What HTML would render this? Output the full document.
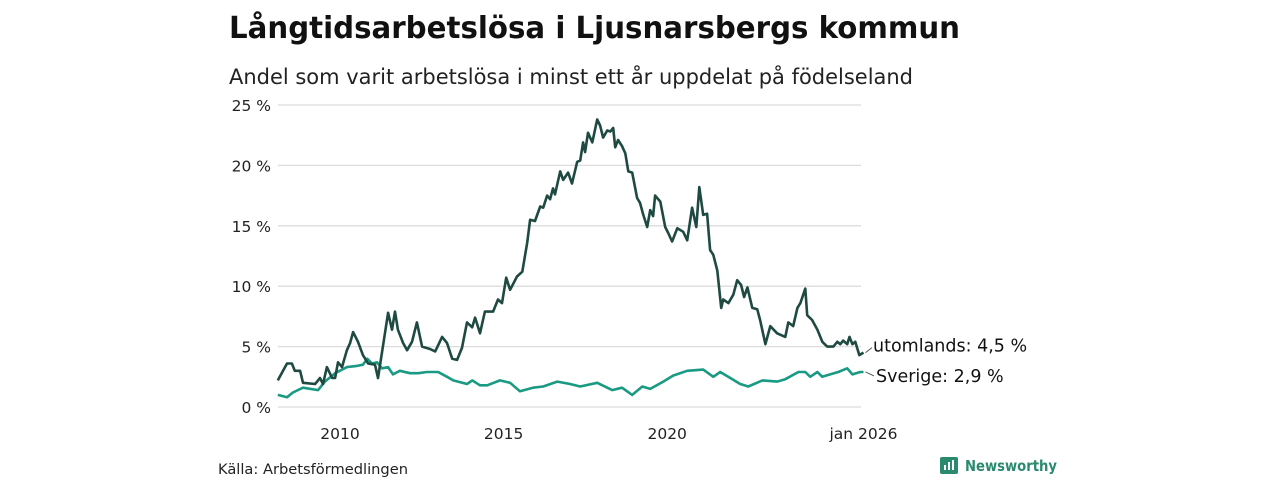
<!DOCTYPE html>
<html><head><meta charset="utf-8">
<style>
body{margin:0;background:#fff;font-family:"DejaVu Sans","Liberation Sans",sans-serif;}
#wrap{position:relative;width:1280px;height:480px;overflow:hidden;}
</style></head>
<body>
<div id="wrap">
<svg id="chart" width="1280" height="480" font-family="DejaVu Sans, Liberation Sans, sans-serif">
  <text x="229" y="38" font-size="30" font-weight="bold" fill="#111" textLength="731" lengthAdjust="spacingAndGlyphs">Långtidsarbetslösa i Ljusnarsbergs kommun</text>
  <text x="229" y="84" font-size="21" fill="#222" textLength="684" lengthAdjust="spacingAndGlyphs">Andel som varit arbetslösa i minst ett år uppdelat på födelseland</text>
  <g id="grid"></g><g id="series"></g>
  <text x="218" y="474" font-size="14.5" fill="#222" textLength="190" lengthAdjust="spacingAndGlyphs">Källa: Arbetsförmedlingen</text>
  <g>
    <rect x="940" y="457" width="18" height="17" rx="2" fill="#2a8a6e"/>
    <rect x="944" y="465" width="2" height="5" fill="#fff"/><rect x="948" y="462" width="2" height="8" fill="#fff"/><rect x="952" y="460" width="2" height="10" fill="#fff"/>
    <text x="965" y="471" font-size="15" font-weight="bold" fill="#2a8a6e" textLength="92" lengthAdjust="spacingAndGlyphs">Newsworthy</text>
  </g>
</svg>
</div>
<script>
const yTicks=[0,5,10,15,20,25];
const yTickLabels=["0 %","5 %","10 %","15 %","20 %","25 %"];
const xTicks=[2010,2015,2020,2026];
const xTickLabels=["2010","2015","2020","jan 2026"];
const foreignDates=[2008.10,2008.38,2008.53,2008.62,2008.78,2008.87,2009.24,2009.39,2009.48,2009.60,2009.76,2009.85,2009.94,2010.06,2010.21,2010.31,2010.40,2010.55,2010.70,2010.86,2011.07,2011.16,2011.31,2011.47,2011.59,2011.68,2011.77,2011.93,2012.05,2012.20,2012.35,2012.51,2012.75,2012.91,2013.12,2013.27,2013.43,2013.58,2013.73,2013.88,2014.04,2014.13,2014.28,2014.43,2014.68,2014.83,2014.95,2015.08,2015.20,2015.41,2015.57,2015.72,2015.81,2015.96,2016.12,2016.21,2016.33,2016.42,2016.51,2016.57,2016.73,2016.82,2016.97,2017.09,2017.25,2017.34,2017.43,2017.49,2017.58,2017.71,2017.86,2017.95,2018.04,2018.17,2018.26,2018.35,2018.41,2018.50,2018.62,2018.72,2018.81,2018.93,2019.08,2019.17,2019.27,2019.39,2019.48,2019.57,2019.63,2019.79,2019.94,2020.03,2020.15,2020.31,2020.49,2020.61,2020.76,2020.89,2020.98,2021.10,2021.22,2021.31,2021.41,2021.53,2021.65,2021.71,2021.87,2022.02,2022.14,2022.26,2022.35,2022.45,2022.60,2022.75,2022.84,2023.00,2023.15,2023.36,2023.61,2023.70,2023.85,2023.98,2024.07,2024.22,2024.28,2024.43,2024.59,2024.74,2024.89,2025.08,2025.20,2025.29,2025.38,2025.50,2025.57,2025.66,2025.75,2025.87,2026.0];
const foreignValues=[2.2,3.6,3.6,3.0,3.0,2.0,1.9,2.4,1.9,3.3,2.4,2.4,3.7,3.3,4.7,5.3,6.2,5.4,4.3,3.6,3.5,2.4,5.0,7.8,6.4,7.9,6.4,5.3,4.7,5.4,7.0,5.0,4.8,4.6,5.8,5.3,4.0,3.9,4.9,7.0,6.6,7.4,6.1,7.9,7.9,8.9,8.6,10.7,9.7,10.8,11.2,13.6,15.5,15.4,16.6,16.5,17.5,17.2,18.1,17.6,19.5,18.8,19.4,18.5,20.3,20.4,21.9,21.1,22.7,21.9,23.8,23.3,22.3,22.9,22.8,23.1,21.5,22.1,21.6,21.0,19.5,19.4,17.3,16.9,15.9,14.9,16.3,15.8,17.5,17.0,14.9,14.4,13.7,14.8,14.5,13.8,16.5,14.9,18.2,15.9,16.0,13.0,12.6,11.3,8.2,8.9,8.6,9.3,10.5,10.1,9.1,9.9,8.2,8.1,7.2,5.2,6.7,6.1,5.8,7.0,6.7,8.2,8.6,9.8,7.6,7.2,6.4,5.4,5.0,5.0,5.4,5.2,5.5,5.2,5.8,5.2,5.4,4.3,4.5];
const swedenDates=[2008.10,2008.38,2008.56,2008.87,2009.33,2009.54,2009.85,2010.21,2010.52,2010.70,2010.83,2010.98,2011.13,2011.28,2011.47,2011.62,2011.83,2012.14,2012.39,2012.66,2013.00,2013.27,2013.46,2013.88,2014.04,2014.28,2014.50,2014.89,2015.20,2015.50,2015.90,2016.21,2016.64,2017.03,2017.34,2017.86,2018.32,2018.62,2018.93,2019.24,2019.48,2019.88,2020.18,2020.61,2021.10,2021.41,2021.62,2021.93,2022.23,2022.48,2022.91,2023.36,2023.61,2024.01,2024.22,2024.37,2024.59,2024.74,2024.98,2025.23,2025.50,2025.66,2025.90,2026.0];
const swedenValues=[1.0,0.8,1.2,1.6,1.4,2.1,2.8,3.3,3.4,3.5,4.0,3.6,3.7,3.2,3.3,2.7,3.0,2.8,2.8,2.9,2.9,2.5,2.2,1.9,2.2,1.8,1.8,2.2,2.0,1.3,1.6,1.7,2.1,1.9,1.7,2.0,1.4,1.6,1.0,1.7,1.5,2.1,2.6,3.0,3.1,2.5,2.9,2.4,1.9,1.7,2.2,2.1,2.3,2.9,2.9,2.5,2.9,2.5,2.7,2.9,3.2,2.7,2.9,2.9];
const NS="http://www.w3.org/2000/svg";
const x=t=>340+(t-2010)*32.72;
const y=v=>407-v*12.08;
const grid=document.getElementById('grid'),ser=document.getElementById('series');
function mk(tag,attrs,parent){const e=document.createElementNS(NS,tag);for(const k in attrs)e.setAttribute(k,attrs[k]);parent.appendChild(e);return e;}
yTicks.forEach((v,i)=>{
  const l=mk('line',{x1:278,x2:861,y1:y(v),y2:y(v),stroke:'#dcdcdc','stroke-width':1.3},grid);
  
  
  const t=mk('text',{x:271,y:y(v)+6,'text-anchor':'end','font-size':15.5,fill:'#222'},grid);
  t.textContent=yTickLabels[i];
  
  
});
xTicks.forEach((v,i)=>{
  const t=mk('text',{x:x(v),y:439,'text-anchor':'middle','font-size':15.5,fill:'#222'},grid);
  t.textContent=xTickLabels[i];
  
  
});
function line(d,v,c,name){
  const p=mk('path',{d:d.map((t,i)=>(i?'L':'M')+x(t).toFixed(1)+','+y(v[i]).toFixed(1)).join(''),fill:'none',stroke:c,'stroke-width':2.6,'stroke-linejoin':'round'},ser);
  
  
}
line(swedenDates,swedenValues,'#1b9a83','line-sverige');
line(foreignDates,foreignValues,'#1f4a41','line-utomlands');
const fl=foreignValues[foreignValues.length-1],sl=swedenValues[swedenValues.length-1];
mk('line',{x1:x(2026)+2,y1:y(fl),x2:872,y2:y(fl)-5,stroke:'#555','stroke-width':1},ser);
mk('line',{x1:x(2026)+2,y1:y(sl),x2:874,y2:y(sl)+4,stroke:'#555','stroke-width':1},ser);
const l1=mk('text',{x:873,y:y(fl)-1,'font-size':17.5,fill:'#111'},ser);
l1.textContent='utomlands: '+String(fl).replace('.',',')+' %';


const l2=mk('text',{x:876,y:y(sl)+10,'font-size':17.5,fill:'#111'},ser);
l2.textContent='Sverige: '+String(sl).replace('.',',')+' %';


</script>
</body></html>
